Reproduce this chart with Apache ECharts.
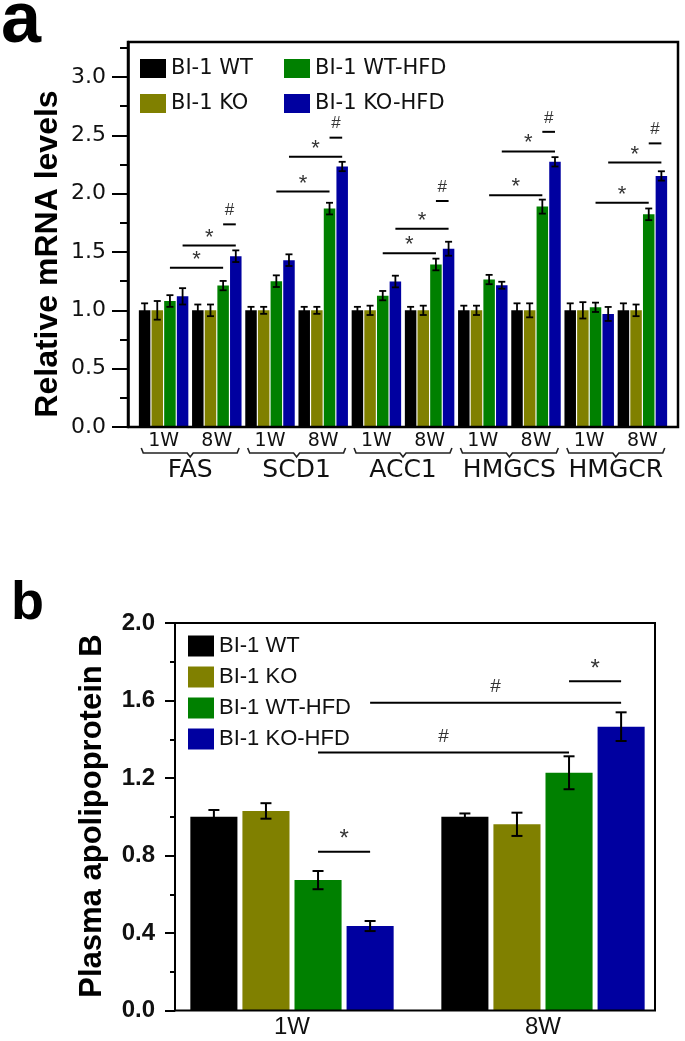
<!DOCTYPE html>
<html><head><meta charset="utf-8">
<script src="https://cdn.jsdelivr.net/npm/echarts@6/dist/echarts.min.js"></script>
<style>html,body{margin:0;padding:0;background:#fff}#c{width:685px;height:1041px}</style>
</head><body><div id="c"></div>
<script>
// ---------- data ----------
const seriesNames = ['BI-1 WT', 'BI-1 KO', 'BI-1 WT-HFD', 'BI-1 KO-HFD'];
const colors = ['#000000', '#808000', '#008000', '#0000a0'];

// Panel a
const catsA = ['1W', '8W', '1W', '8W', '1W', '8W', '1W', '8W', '1W', '8W'];
const genesA = ['FAS', 'SCD1', 'ACC1', 'HMGCS', 'HMGCR'];
const wtA = [1, 1, 1, 1, 1, 1, 1, 1, 1, 1];
const koA = [1, 1, 1, 1, 1, 1, 1, 1, 1, 1];
const wtHfdA = [1.08, 1.212, 1.25, 1.872, 1.126, 1.393, 1.264, 1.889, 1.026, 1.823];
const koHfdA = [1.12, 1.464, 1.43, 2.233, 1.247, 1.528, 1.215, 2.273, 0.969, 2.152];
const wtErrA = [0.06, 0.05, 0.03, 0.03, 0.03, 0.03, 0.04, 0.06, 0.06, 0.06];
const koErrA = [0.08, 0.05, 0.03, 0.03, 0.04, 0.04, 0.04, 0.06, 0.07, 0.05];
const wtHfdErrA = [0.05, 0.04, 0.05, 0.05, 0.04, 0.05, 0.04, 0.06, 0.04, 0.05];
const koHfdErrA = [0.07, 0.05, 0.05, 0.04, 0.05, 0.06, 0.03, 0.04, 0.06, 0.04];
const majorTicksA = [0, 0.5, 1.0, 1.5, 2.0, 2.5, 3.0];
const minorTicksA = [0.25, 0.75, 1.25, 1.75, 2.25, 2.75, 3.25];
// significance: [fromCategory, fromSeries, toCategory, toSeries, level, mark]
const sigA = [
  [0, 2, 1, 2, 1.365, '*'], [0, 3, 1, 3, 1.556, '*'], [1, 2, 1, 3, 1.737, '#'],
  [2, 2, 3, 2, 2.018, '*'], [2, 3, 3, 3, 2.316, '*'], [3, 2, 3, 3, 2.48, '#'],
  [4, 2, 5, 2, 1.49, '*'], [4, 3, 5, 3, 1.70, '*'], [5, 2, 5, 3, 1.937, '#'],
  [6, 2, 7, 2, 1.986, '*'], [6, 3, 7, 3, 2.362, '*'], [7, 2, 7, 3, 2.53, '#'],
  [8, 2, 9, 2, 1.923, '*'], [8, 3, 9, 3, 2.267, '*'], [9, 2, 9, 3, 2.431, '#']
];
const bracePairsA = [0, 2, 4, 6, 8];

// Panel b
const catsB = ['1W', '8W'];
const wtB = [1.0, 1.0];
const koB = [1.03, 0.961];
const wtHfdB = [0.673, 1.227];
const koHfdB = [0.436, 1.465];
const wtErrB = [0.035, 0.017];
const koErrB = [0.04, 0.06];
const wtHfdErrB = [0.047, 0.085];
const koHfdErrB = [0.026, 0.074];
const sigB = [
  [0, 2, 0, 3, 0.82, '*'], [0, 2, 1, 2, 1.332, '#'], [0, 3, 1, 3, 1.589, '#'], [1, 2, 1, 3, 1.70, '*']
];

// ---------- helpers ----------
const FA = 'DejaVu Sans', FB = 'Liberation Sans';
const GAP_A = {cat: 0.07, bar: 0.10};
const GAP_B = {cat: 0.19, bar: 0.106};

function barX(api, cat, s, g) {
  const band = api.size([1, 0])[0];
  const groupW = band * (1 - g.cat);
  const bw = groupW / (4 + 3 * g.bar);
  const step = bw * (1 + g.bar);
  return api.coord([cat, 0])[0] + (s - 1.5) * step;
}

function errSeries(xi, yi, vals, errs, g, capHalf, lw) {
  const data = [];
  vals.forEach((arr, s) => arr.forEach((v, i) => data.push([i, v, errs[s][i], s])));
  return {
    type: 'custom', xAxisIndex: xi, yAxisIndex: yi, z: 5, clip: false, silent: true,
    data: data, encode: {x: 0, y: 1},
    renderItem: function (params, api) {
      const i = api.value(0), v = api.value(1), e = api.value(2), s = api.value(3);
      const x = barX(api, i, s, g);
      const yt = api.coord([i, v + e])[1], yb = api.coord([i, v - e])[1];
      const st = {stroke: '#000', lineWidth: lw};
      return {type: 'group', children: [
        {type: 'line', shape: {x1: x, y1: yt, x2: x, y2: yb}, style: st},
        {type: 'line', shape: {x1: x - capHalf, y1: yt, x2: x + capHalf, y2: yt}, style: st},
        {type: 'line', shape: {x1: x - capHalf, y1: yb, x2: x + capHalf, y2: yb}, style: st}
      ]};
    }
  };
}

function sigSeries(xi, yi, sig, g, starSize, hashSize, offStar, offHash) {
  return {
    type: 'custom', xAxisIndex: xi, yAxisIndex: yi, z: 6, clip: false, silent: true,
    data: sig.map(r => [r[0], r[4]]), encode: {x: 0, y: 1},
    renderItem: function (params, api) {
      const r = sig[params.dataIndex];
      const x1 = barX(api, r[0], r[1], g), x2 = barX(api, r[2], r[3], g);
      const y = api.coord([r[0], r[4]])[1];
      const isStar = r[5] === '*';
      return {type: 'group', children: [
        {type: 'line', shape: {x1: x1, y1: y, x2: x2, y2: y}, style: {stroke: '#000', lineWidth: 2}},
        {type: 'text', x: (x1 + x2) / 2, y: y - (isStar ? offStar : offHash),
          style: {text: r[5], textAlign: 'center', textVerticalAlign: 'middle',
            font: (isStar ? starSize : hashSize) + 'px ' + FB, fill: '#333'}}
      ]};
    }
  };
}

function braceSeries(xi, yi, pairs) {
  return {
    type: 'custom', xAxisIndex: xi, yAxisIndex: yi, z: 6, clip: false, silent: true,
    data: pairs.map(c => [c, 0]), encode: {x: 0, y: 1},
    renderItem: function (params, api) {
      const c = api.value(0);
      const band = api.size([1, 0])[0];
      const x1 = api.coord([c, 0])[0] - 0.42 * band;
      const x2 = api.coord([c + 1, 0])[0] + 0.42 * band;
      const xm = (x1 + x2) / 2;
      const y0 = api.coord([c, 0])[1];
      return {type: 'polyline', shape: {points: [
        [x1, y0 + 21], [x1 + 2, y0 + 26], [xm - 3, y0 + 26], [xm, y0 + 30],
        [xm + 3, y0 + 26], [x2 - 2, y0 + 26], [x2, y0 + 21]]},
        style: {stroke: '#222', lineWidth: 1.6, fill: null}};
    }
  };
}

const valsA = [wtA, koA, wtHfdA, koHfdA];
const errsA = [wtErrA, koErrA, wtHfdErrA, koHfdErrA];
const valsB = [wtB, koB, wtHfdB, koHfdB];
const errsB = [wtErrB, koErrB, wtHfdErrB, koHfdErrB];

const series = [];
valsA.forEach((vals, s) => series.push({
  type: 'bar', name: seriesNames[s], xAxisIndex: 2, yAxisIndex: 2, data: vals,
  itemStyle: {color: colors[s]}, barCategoryGap: (GAP_A.cat * 100) + '%', barGap: (GAP_A.bar * 100) + '%', z: 2
}));
valsB.forEach((vals, s) => series.push({
  type: 'bar', name: seriesNames[s], xAxisIndex: 5, yAxisIndex: 4, data: vals,
  itemStyle: {color: colors[s]}, barCategoryGap: (GAP_B.cat * 100) + '%', barGap: (GAP_B.bar * 100) + '%', z: 2
}));
series.push(errSeries(2, 2, valsA, errsA, GAP_A, 3.5, 1.8));
series.push(errSeries(5, 4, valsB, errsB, GAP_B, 5.5, 2));
series.push(sigSeries(2, 2, sigA, GAP_A, 22, 17, 8, 14));
series.push(sigSeries(5, 4, sigB, GAP_B, 24, 19, 12, 16));
series.push(braceSeries(2, 2, bracePairsA));

const chart = echarts.init(document.getElementById('c'));
chart.setOption({
  animation: false,
  backgroundColor: '#fff',
  grid: [
    {left: 128, right: 7, top: 42, height: 385, show: true, borderColor: '#000', borderWidth: 2.5, z: 10},
    {left: 137, right: 16, top: 42, height: 385},
    {left: 175, right: 30, top: 623, height: 387.5, show: true, borderColor: '#000', borderWidth: 2, z: 10},
    {left: 166.5, right: 16.5, top: 623, height: 387.5}
  ],
  xAxis: [
    {gridIndex: 0, type: 'value', show: false, min: 0, max: 1},
    {gridIndex: 0, type: 'value', show: false, min: 0, max: 1},
    {gridIndex: 1, type: 'category', position: 'bottom', data: catsA,
      axisLine: {show: false}, axisTick: {show: false},
      axisLabel: {interval: 0, margin: 5, fontFamily: FA, fontSize: 19, color: '#111'}},
    {gridIndex: 1, type: 'category', position: 'bottom', data: genesA, offset: 27,
      axisLine: {show: false}, axisTick: {show: false},
      axisLabel: {interval: 0, hideOverlap: false, margin: 4, fontFamily: FA, fontSize: 25, color: '#111'}},
    {gridIndex: 2, type: 'value', show: false, min: 0, max: 1},
    {gridIndex: 3, type: 'category', position: 'bottom', data: catsB,
      axisLine: {show: false}, axisTick: {show: false},
      axisLabel: {margin: 5, fontFamily: FB, fontSize: 24, color: '#111'}}
  ],
  yAxis: [
    {gridIndex: 0, type: 'value', position: 'left', min: 0, max: 3.3, interval: 0.5,
      splitLine: {show: false},
      axisLine: {show: true, lineStyle: {color: '#000', width: 2.5}},
      axisTick: {show: true, length: 16, lineStyle: {color: '#000', width: 2}, customValues: majorTicksA},
      axisLabel: {margin: 22, fontFamily: FA, fontSize: 22, color: '#111', customValues: majorTicksA,
        formatter: v => v.toFixed(1)}},
    {gridIndex: 0, type: 'value', position: 'left', min: 0, max: 3.3, interval: 0.5,
      splitLine: {show: false}, axisLine: {show: false}, axisLabel: {show: false},
      axisTick: {show: true, length: 8, lineStyle: {color: '#000', width: 2}, customValues: minorTicksA}},
    {gridIndex: 1, type: 'value', show: false, min: 0, max: 3.3},
    {gridIndex: 2, type: 'value', position: 'left', min: 0, max: 2.0, interval: 0.4,
      splitLine: {show: false},
      axisLine: {show: true, lineStyle: {color: '#000', width: 2}},
      axisTick: {show: true, length: 10, lineStyle: {color: '#000', width: 2}},
      minorTick: {show: true, splitNumber: 2, length: 5, lineStyle: {color: '#000', width: 2}},
      axisLabel: {margin: 20, fontFamily: FB, fontWeight: 'bold', fontSize: 24, color: '#111',
        formatter: v => v.toFixed(1)}},
    {gridIndex: 3, type: 'value', show: false, min: 0, max: 2.0}
  ],
  legend: [
    {data: [seriesNames[0], seriesNames[1]], orient: 'vertical', left: 135, top: 53,
      itemWidth: 26, itemHeight: 19, itemGap: 14, icon: 'rect', selectedMode: false,
      textStyle: {fontFamily: FA, fontSize: 21, color: '#111'}},
    {data: [seriesNames[2], seriesNames[3]], orient: 'vertical', left: 279, top: 53,
      itemWidth: 26, itemHeight: 19, itemGap: 14, icon: 'rect', selectedMode: false,
      textStyle: {fontFamily: FA, fontSize: 21, color: '#111'}},
    {data: seriesNames, orient: 'vertical', left: 183, top: 630,
      itemWidth: 26, itemHeight: 21, itemGap: 9, icon: 'rect', selectedMode: false,
      textStyle: {fontFamily: FB, fontSize: 22, color: '#111'}}
  ],
  graphic: [
    {type: 'text', left: 1, top: -14, style: {text: 'a', font: 'bold 72px ' + FB, fill: '#000'}},
    {type: 'text', left: 11, top: 577, style: {text: 'b', font: 'bold 54px ' + FB, fill: '#000'}},
    {type: 'text', x: 48, y: 254, rotation: Math.PI / 2,
      style: {text: 'Relative mRNA levels', font: 'bold 32px ' + FB, fill: '#000',
        textAlign: 'center', textVerticalAlign: 'middle'}},
    {type: 'text', x: 92, y: 816, rotation: Math.PI / 2,
      style: {text: 'Plasma apolipoprotein B', font: 'bold 31px ' + FB, fill: '#000',
        textAlign: 'center', textVerticalAlign: 'middle'}}
  ],
  series: series
});
</script></body></html>
